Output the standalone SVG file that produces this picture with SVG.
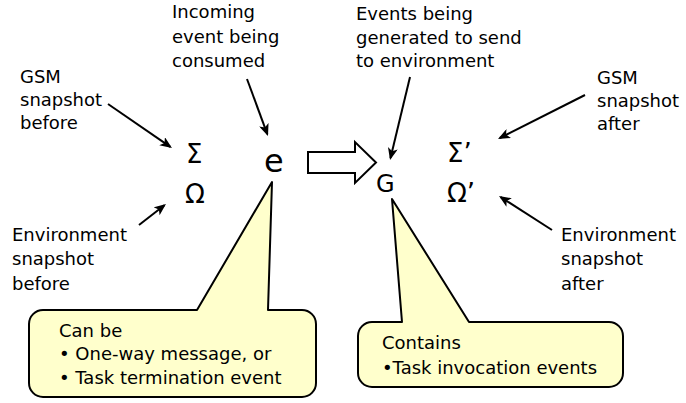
<svg xmlns="http://www.w3.org/2000/svg" width="686" height="403" viewBox="0 0 686 403">
  <defs>
    <style>
      .lbl { font-family: "DejaVu Sans", "Noto Sans", sans-serif; font-size: 18px; fill: #000; }
      .sym { font-family: "DejaVu Sans", "Noto Sans", sans-serif; font-size: 26px; fill: #000; }
      .pointer { stroke: #000; stroke-width: 2; fill: none; }
      .callout { fill: #FFFFCC; stroke: #000; stroke-width: 2; stroke-linejoin: round; }
      .block { fill: #fff; stroke: #000; stroke-width: 2; stroke-linejoin: miter; }
    </style>
    <marker id="head" viewBox="0 0 12 10" refX="10" refY="5" markerWidth="12" markerHeight="10" markerUnits="userSpaceOnUse" orient="auto">
      <path d="M0,0 L12,5 L0,10 L3,5 Z" fill="#000"/>
    </marker>
  </defs>

  <rect width="686" height="403" fill="#fff"/>

  <!-- labels around the left state -->
  <g id="gsm-before">
    <text class="lbl" x="20" y="83">GSM</text>
    <text class="lbl" x="20" y="106">snapshot</text>
    <text class="lbl" x="20" y="129">before</text>
  </g>
  <g id="env-before">
    <text class="lbl" x="12" y="241">Environment</text>
    <text class="lbl" x="12" y="265">snapshot</text>
    <text class="lbl" x="12" y="290">before</text>
  </g>
  <g id="incoming-event">
    <text class="lbl" x="172" y="18">Incoming</text>
    <text class="lbl" x="172" y="43">event being</text>
    <text class="lbl" x="172" y="67">consumed</text>
  </g>

  <!-- labels around the right state -->
  <g id="events-generated">
    <text class="lbl" x="356" y="20">Events being</text>
    <text class="lbl" x="356" y="44">generated to send</text>
    <text class="lbl" x="356" y="67">to environment</text>
  </g>
  <g id="gsm-after">
    <text class="lbl" x="597" y="84">GSM</text>
    <text class="lbl" x="597" y="107">snapshot</text>
    <text class="lbl" x="597" y="130">after</text>
  </g>
  <g id="env-after">
    <text class="lbl" x="561" y="241">Environment</text>
    <text class="lbl" x="561" y="265">snapshot</text>
    <text class="lbl" x="561" y="290">after</text>
  </g>

  <!-- state symbols -->
  <g id="sigma"><text class="sym" x="186" y="163">Σ</text></g>
  <g id="omega"><text class="sym" x="185" y="203">Ω</text></g>
  <g id="event-e"><text class="sym" x="264" y="172" style="font-size:32px">e</text></g>
  <g id="generated-g"><text class="sym" x="376" y="192" style="font-size:24px">G</text></g>
  <g id="sigma-prime"><text class="sym" x="447" y="162">Σ’</text></g>
  <g id="omega-prime"><text class="sym" x="447" y="202">Ω’</text></g>

  <!-- transition arrow -->
  <g id="transition">
    <path class="block" d="M308,152 L355,152 L355,142 L376,162.5 L355,183 L355,173 L308,173 Z"/>
  </g>

  <!-- callouts -->
  <g id="callout-e">
    <path class="callout" d="M43,310 L197,310 L272,182 L268,310 L302,310 A14,14 0 0 1 316,324 L316,383 A14,14 0 0 1 302,397 L43,397 A14,14 0 0 1 29,383 L29,324 A14,14 0 0 1 43,310 Z"/>
    <text class="lbl" x="59" y="337">Can be</text>
    <text class="lbl" x="59" y="360">• One-way message, or</text>
    <text class="lbl" x="59" y="384">• Task termination event</text>
  </g>
  <g id="callout-g">
    <path class="callout" d="M372,322 L402,322 L392,199 L469,322 L609,322 A14,14 0 0 1 623,336 L623,373 A14,14 0 0 1 609,387 L372,387 A14,14 0 0 1 358,373 L358,336 A14,14 0 0 1 372,322 Z"/>
    <text class="lbl" x="382" y="349">Contains</text>
    <text class="lbl" x="382" y="374">•Task invocation events</text>
  </g>

  <!-- connectors -->
  <g id="connectors">
    <line class="pointer" x1="108" y1="104" x2="170.3" y2="146.9" marker-end="url(#head)"/>
    <line class="pointer" x1="247" y1="79" x2="267.3" y2="134.1" marker-end="url(#head)"/>
    <line class="pointer" x1="139" y1="225" x2="164.4" y2="205.2" marker-end="url(#head)"/>
    <line class="pointer" x1="410" y1="77" x2="390.5" y2="158" marker-end="url(#head)"/>
    <line class="pointer" x1="585" y1="95" x2="499.8" y2="138" marker-end="url(#head)"/>
    <line class="pointer" x1="552" y1="230" x2="500.7" y2="197.1" marker-end="url(#head)"/>
  </g>
</svg>
